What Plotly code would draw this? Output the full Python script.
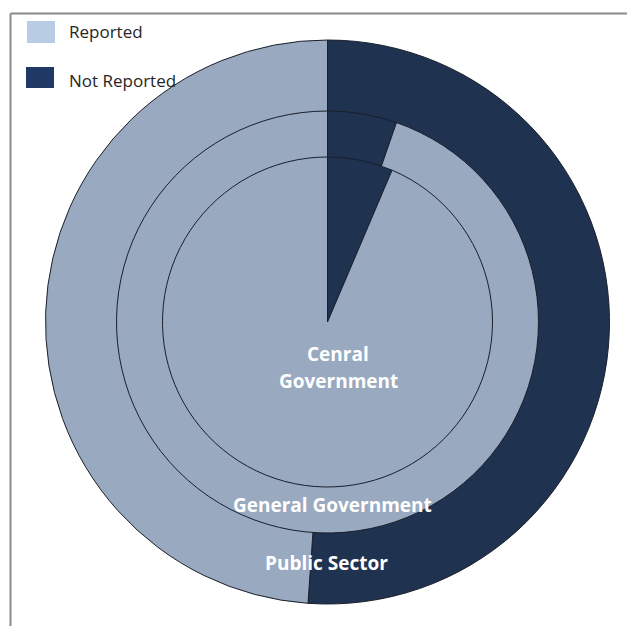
import plotly.graph_objects as go

OFF = 8  # page body margin in the browser
W, H = 635 - OFF, 626 - OFF

# Data
categories = ["Not Reported", "Reported"]
public_sector = [51.1, 48.9]
general_government = [5.3, 94.7]
central_government = [6.4, 93.6]
ring_labels = ["Public Sector", "General Government", "Cenral", "Government"]

colors = ["#1f3250", "#98a9c0"]
legend_colors = {"Reported": "#b8cce4", "Not Reported": "#1f3864"}

cx, cy = 327.5, 322.0


def px(x):
    return (x - OFF) / W


def py(y):
    return 1 - (y - OFF) / H


def dom(r):
    return dict(x=[px(cx - r), px(cx + r)],
                y=[py(cy + r), py(cy - r)])


fig = go.Figure()
for vals, r in [(public_sector, 282), (general_government, 211), (central_government, 165)]:
    fig.add_trace(go.Pie(
        labels=categories, values=vals, sort=False, direction="clockwise",
        rotation=0, textinfo="none", hoverinfo="label+percent",
        marker=dict(colors=colors, line=dict(color="#1a1f2b", width=1)),
        domain=dom(r), showlegend=False,
    ))

shapes = [
    dict(type="line", xref="paper", yref="paper", x0=px(10.5), y0=py(13.5), x1=px(635), y1=py(13.5),
         line=dict(color="#8a8a8a", width=2)),
    dict(type="line", xref="paper", yref="paper", x0=px(10.5), y0=py(13.5), x1=px(10.5), y1=py(626),
         line=dict(color="#8a8a8a", width=2)),
    dict(type="rect", xref="paper", yref="paper", x0=px(27), y0=py(21), x1=px(55), y1=py(43),
         fillcolor=legend_colors["Reported"], line=dict(width=0)),
    dict(type="rect", xref="paper", yref="paper", x0=px(26), y0=py(67), x1=px(54), y1=py(88),
         fillcolor=legend_colors["Not Reported"], line=dict(width=0)),
]

lab_font = dict(family="Open Sans", size=17, color="#262626")
ring_font = dict(family="Open Sans", size=19, color="white")
annotations = [
    dict(text="Reported", x=px(67), y=py(32), font=lab_font, xanchor="left"),
    dict(text="Not Reported", x=px(67), y=py(81), font=lab_font, xanchor="left"),
    dict(text="<b>" + ring_labels[2] + "</b>", x=px(338), y=py(354), font=ring_font, xanchor="center"),
    dict(text="<b>" + ring_labels[3] + "</b>", x=px(338), y=py(381), font=ring_font, xanchor="center"),
    dict(text="<b>" + ring_labels[1] + "</b>", x=px(332), y=py(505), font=ring_font, xanchor="center"),
    dict(text="<b>" + ring_labels[0] + "</b>", x=px(326), y=py(563), font=ring_font, xanchor="center"),
]
for a in annotations:
    a.update(xref="paper", yref="paper", showarrow=False, yanchor="middle")

fig.update_layout(
    width=W, height=H, margin=dict(l=0, r=0, t=0, b=0),
    paper_bgcolor="white", plot_bgcolor="white",
    shapes=shapes, annotations=annotations, showlegend=False,
)

fig.write_html("out.html")
